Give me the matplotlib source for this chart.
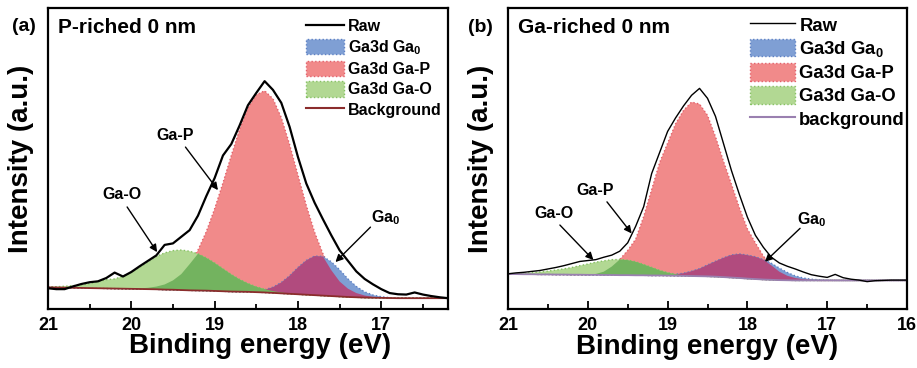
import matplotlib.pyplot as plt
import numpy as np
from matplotlib.patches import Patch
from matplotlib.lines import Line2D
from matplotlib.ticker import MultipleLocator

plt.rcParams['font.family'] = ['Liberation Sans', 'DejaVu Sans']
plt.rcParams['font.weight'] = 'bold'
plt.rcParams['axes.labelweight'] = 'bold'
plt.rcParams['mathtext.fontset'] = 'custom'
plt.rcParams['mathtext.rm'] = 'Liberation Sans:bold'
plt.rcParams['mathtext.it'] = 'Liberation Sans:bold'
plt.rcParams['mathtext.bf'] = 'Liberation Sans:bold'
plt.rcParams['mathtext.default'] = 'rm'

# ---- (a) P-riched 0 nm : binding energy (eV), intensities (a.u.) ----
energy_a = [21.0, 20.9, 20.8, 20.7, 20.6, 20.5, 20.4, 20.3, 20.2, 20.1,
            20.0, 19.9, 19.8, 19.7, 19.6, 19.5, 19.4, 19.3, 19.2, 19.1,
            19.0, 18.9, 18.8, 18.7, 18.6, 18.5, 18.4, 18.3, 18.2, 18.1,
            18.0, 17.9, 17.8, 17.7, 17.6, 17.5, 17.4, 17.3, 17.2, 17.1,
            17.0, 16.9, 16.8, 16.7, 16.6, 16.5, 16.4, 16.3, 16.2]
raw_a = [6.9, 6.6, 6.6, 7.5, 8.3, 8.9, 9.2, 10.3, 12.1, 10.8,
         12.3, 14.2, 16.0, 17.8, 21.3, 21.8, 24.0, 26.2, 31.0, 37.5,
         43.5, 51.0, 54.8, 61.0, 67.7, 71.8, 75.7, 72.8, 68.5, 60.5,
         50.5, 41.7, 35.3, 29.8, 24.5, 19.5, 16.0, 12.5, 10.0, 8.2,
         6.6, 5.3, 4.9, 4.8, 5.5, 4.8, 4.3, 3.9, 3.6]
bg_a = [7.2, 7.15, 7.1, 7.05, 7.0, 6.95, 6.9, 6.85, 6.8, 6.75,
        6.7, 6.65, 6.6, 6.55, 6.45, 6.4, 6.3, 6.2, 6.15, 6.1,
        6.0, 5.9, 5.8, 5.75, 5.7, 5.6, 5.5, 5.35, 5.2, 5.05,
        4.9, 4.75, 4.6, 4.45, 4.3, 4.15, 4.0, 3.9, 3.8, 3.75,
        3.7, 3.65, 3.6, 3.6, 3.6, 3.6, 3.6, 3.6, 3.6]
# fitted components, height above background
ga0_a = [0, 0, 0, 0, 0, 0, 0, 0, 0, 0,
         0, 0, 0, 0, 0, 0, 0, 0, 0, 0,
         0, 0, 0, 0, 0.13, 0.37, 0.9, 1.9, 3.6, 6.0,
         8.9, 11.4, 13.0, 13.0, 11.4, 8.9, 6.0, 3.6, 1.9, 0.9,
         0.37, 0.13, 0.04, 0, 0, 0, 0, 0, 0]
gap_a = [0, 0, 0, 0, 0, 0, 0, 0, 0, 0,
         0.1, 0.2, 0.45, 0.9, 1.7, 3.1, 5.3, 8.7, 13.4, 19.6,
         27.3, 36.0, 45.2, 53.9, 61.1, 65.6, 67.0, 64.5, 58.4, 49.6,
         39.6, 29.7, 20.9, 13.9, 8.6, 5.0, 2.75, 1.4, 0.7, 0.3,
         0.15, 0.05, 0, 0, 0, 0, 0, 0, 0]
gao_a = [0.1, 0.25, 0.45, 0.7, 1.0, 1.5, 2.2, 2.9, 3.2, 4.1,
         5.5, 7.2, 9.0, 10.9, 12.2, 13.0, 13.3, 13.0, 12.2, 10.9,
         9.3, 7.5, 5.7, 4.1, 2.8, 1.8, 1.1, 0.6, 0.3, 0.1,
         0, 0, 0, 0, 0, 0, 0, 0, 0, 0,
         0, 0, 0, 0, 0, 0, 0, 0, 0]

# ---- (b) Ga-riched 0 nm ----
energy_b = [21.0, 20.9, 20.8, 20.7, 20.6, 20.5, 20.4, 20.3, 20.2, 20.1,
            20.0, 19.9, 19.8, 19.7, 19.6, 19.5, 19.4, 19.3, 19.2, 19.1,
            19.0, 18.9, 18.8, 18.7, 18.6, 18.5, 18.4, 18.3, 18.2, 18.1,
            18.0, 17.9, 17.8, 17.7, 17.6, 17.5, 17.4, 17.3, 17.2, 17.1,
            17.0, 16.9, 16.8, 16.7, 16.6, 16.5, 16.4, 16.3, 16.2, 16.1,
            16.0]
raw_b = [11.7, 12.0, 12.2, 12.5, 12.8, 13.3, 13.8, 14.4, 15.1, 15.8,
         16.1, 16.4, 17.2, 17.9, 19.2, 22.0, 27.5, 34.0, 45.0, 52.0,
         59.0, 63.5, 67.5, 71.0, 73.3, 70.0, 64.0, 55.0, 46.0, 38.0,
         30.5, 24.5, 20.5, 17.2, 15.3, 14.2, 13.3, 12.3, 11.4, 10.9,
         10.5, 11.5, 10.4, 9.9, 9.6, 9.1, 9.4, 9.5, 9.6, 9.6,
         9.6]
bg_b = [11.6, 11.6, 11.55, 11.55, 11.5, 11.5, 11.45, 11.45, 11.4, 11.4,
        11.35, 11.35, 11.3, 11.3, 11.25, 11.25, 11.2, 11.2, 11.15, 11.15,
        11.1, 11.05, 11.0, 10.95, 10.9, 10.85, 10.75, 10.6, 10.45, 10.3,
        10.1, 9.95, 9.8, 9.7, 9.6, 9.55, 9.5, 9.5, 9.5, 9.5,
        9.5, 9.5, 9.5, 9.5, 9.5, 9.5, 9.5, 9.5, 9.5, 9.5,
        9.5]
ga0_b = [0, 0, 0, 0, 0, 0, 0, 0, 0, 0,
         0, 0, 0, 0, 0, 0, 0, 0, 0, 0,
         0.23, 0.48, 0.9, 1.6, 2.5, 3.8, 5.1, 6.4, 7.5, 8.0,
         7.8, 7.4, 6.6, 5.5, 4.0, 2.6, 1.5, 0.8, 0.4, 0.2,
         0.08, 0, 0, 0, 0, 0, 0, 0, 0, 0,
         0]
gap_b = [0, 0, 0, 0, 0, 0, 0, 0, 0, 0,
         0.05, 0.3, 1.1, 2.8, 5.2, 8.2, 12.0, 19.5, 28.5, 37.5,
         44.0, 50.5, 55.0, 57.8, 57.2, 53.5, 46.5, 38.5, 31.0, 23.3,
         16.5, 12.0, 7.8, 4.8, 2.8, 1.5, 0.8, 0.4, 0.2, 0,
         0, 0, 0, 0, 0, 0, 0, 0, 0, 0,
         0]
gao_b = [0.05, 0.15, 0.3, 0.5, 0.8, 1.1, 1.5, 1.9, 2.4, 3.0,
         3.6, 4.2, 4.7, 5.1, 5.2, 5.0, 4.5, 3.6, 2.7, 1.7,
         1.0, 0.5, 0.2, 0.1, 0, 0, 0, 0, 0, 0,
         0, 0, 0, 0, 0, 0, 0, 0, 0, 0,
         0, 0, 0, 0, 0, 0, 0, 0, 0, 0,
         0]

RED, RED_E = '#f18a8a', '#e4606a'
BLUE, BLUE_E = '#7f9fd4', '#5c80c4'
GREEN, GREEN_E = '#b2d893', '#86c163'
DKGREEN = '#73b35f'
PURPLE = '#b14b7e'


def draw_panel(ax, energy, raw, bg, ga0, gap, gao, raw_lw, bg_color, bg_label,
               title, xlim, notes, legend_fs, legend_anchor, legend_sp):
    e = np.array(energy)
    bg = np.array(bg)
    ga0, gap, gao = np.array(ga0), np.array(gap), np.array(gao)

    ax.fill_between(e, bg, bg + gap, facecolor=RED, edgecolor=RED_E,
                    linestyle=':', linewidth=1.0)
    ax.fill_between(e, bg, bg + ga0, facecolor=BLUE, edgecolor=BLUE_E,
                    linestyle=':', linewidth=1.0)
    ax.fill_between(e, bg, bg + gao, facecolor=GREEN, edgecolor=GREEN_E,
                    linestyle=':', linewidth=1.0)
    ax.fill_between(e, bg, bg + np.minimum(gap, ga0), facecolor=PURPLE, linewidth=0)
    ax.fill_between(e, bg, bg + np.minimum(gap, gao), facecolor=DKGREEN, linewidth=0)
    ax.plot(e, bg, color=bg_color, lw=1.3)
    ax.plot(e, raw, color='black', lw=raw_lw)

    ax.set_xlim(*xlim)
    ax.set_ylim(0, 100)
    ax.xaxis.set_major_locator(MultipleLocator(1))
    ax.xaxis.set_minor_locator(MultipleLocator(0.5))
    ax.tick_params(axis='x', which='major', direction='in', length=6, width=1.3,
                   labelsize=13, pad=6)
    ax.tick_params(axis='x', which='minor', direction='in', length=3.5, width=1.3)
    ax.set_yticks([])
    for s in ax.spines.values():
        s.set_linewidth(1.6)
    ax.set_xlabel('Binding energy (eV)', fontsize=20, fontweight='bold', labelpad=0)
    ax.set_ylabel('Intensity (a.u.)', fontsize=20, fontweight='bold')
    ax.yaxis.set_label_coords(-0.035, 0.5)

    ax.text(0.026, 0.935, title, transform=ax.transAxes, fontsize=15,
            ha='left', va='center')

    for label, txy, a0, a1 in notes:
        ax.text(txy[0], txy[1], label, fontsize=11.5, ha='center', va='center')
        ax.annotate('', xy=a1, xytext=a0,
                    arrowprops=dict(arrowstyle='-|>', color='black', lw=1.0,
                                    mutation_scale=11, shrinkA=0, shrinkB=0))

    handles = [Line2D([], [], color='black', lw=raw_lw),
               Patch(facecolor=BLUE, edgecolor=BLUE_E, linestyle=':', lw=1.0),
               Patch(facecolor=RED, edgecolor=RED_E, linestyle=':', lw=1.0),
               Patch(facecolor=GREEN, edgecolor=GREEN_E, linestyle=':', lw=1.0),
               Line2D([], [], color=bg_color, lw=1.5)]
    labels = ['Raw', 'Ga3d Ga$_0$', 'Ga3d Ga-P', 'Ga3d Ga-O', bg_label]
    ax.legend(handles, labels, loc='upper right', bbox_to_anchor=legend_anchor,
              frameon=False, fontsize=legend_fs, borderpad=0, borderaxespad=0,
              handlelength=2.4, handleheight=1.1, handletextpad=0.25,
              labelspacing=legend_sp)


fig = plt.figure(figsize=(9.17, 3.68), dpi=100)
ax_a = fig.add_axes([0.0523, 0.1603, 0.4362, 0.8179])
ax_b = fig.add_axes([0.5540, 0.1603, 0.4351, 0.8179])

notes_a = [('Ga-O', (20.11, 38.2), (20.05, 33.9), (19.69, 18.9)),
           ('Ga-P', (19.47, 57.8), (19.35, 53.8), (18.96, 39.5)),
           ('Ga$_0$', (16.95, 30.2), (17.13, 27.2), (17.55, 15.6))]
notes_b = [('Ga-O', (20.43, 31.8), (20.35, 27.9), (19.93, 16.3)),
           ('Ga-P', (19.91, 39.5), (19.76, 35.6), (19.45, 25.1)),
           ('Ga$_0$', (17.19, 29.6), (17.34, 26.8), (17.78, 15.7))]

draw_panel(ax_a, energy_a, raw_a, bg_a, ga0_a, gap_a, gao_a, 1.6, '#8b2c2c',
           'Background', 'P-riched 0 nm', (21, 16.2), notes_a, 11.5,
           (0.985, 0.967), 0.26)
draw_panel(ax_b, energy_b, raw_b, bg_b, ga0_b, gap_b, gao_b, 1.0, '#9a80b0',
           'background', 'Ga-riched 0 nm', (21, 16), notes_b, 13.3,
           (0.995, 0.975), 0.22)
ax_a.xaxis.set_label_coords(0.53, -0.08)

fig.text(0.026, 0.927, '(a)', fontsize=14, ha='center', va='center')
fig.text(0.5235, 0.924, '(b)', fontsize=14, ha='center', va='center')

fig.savefig('out.png', dpi=100)
